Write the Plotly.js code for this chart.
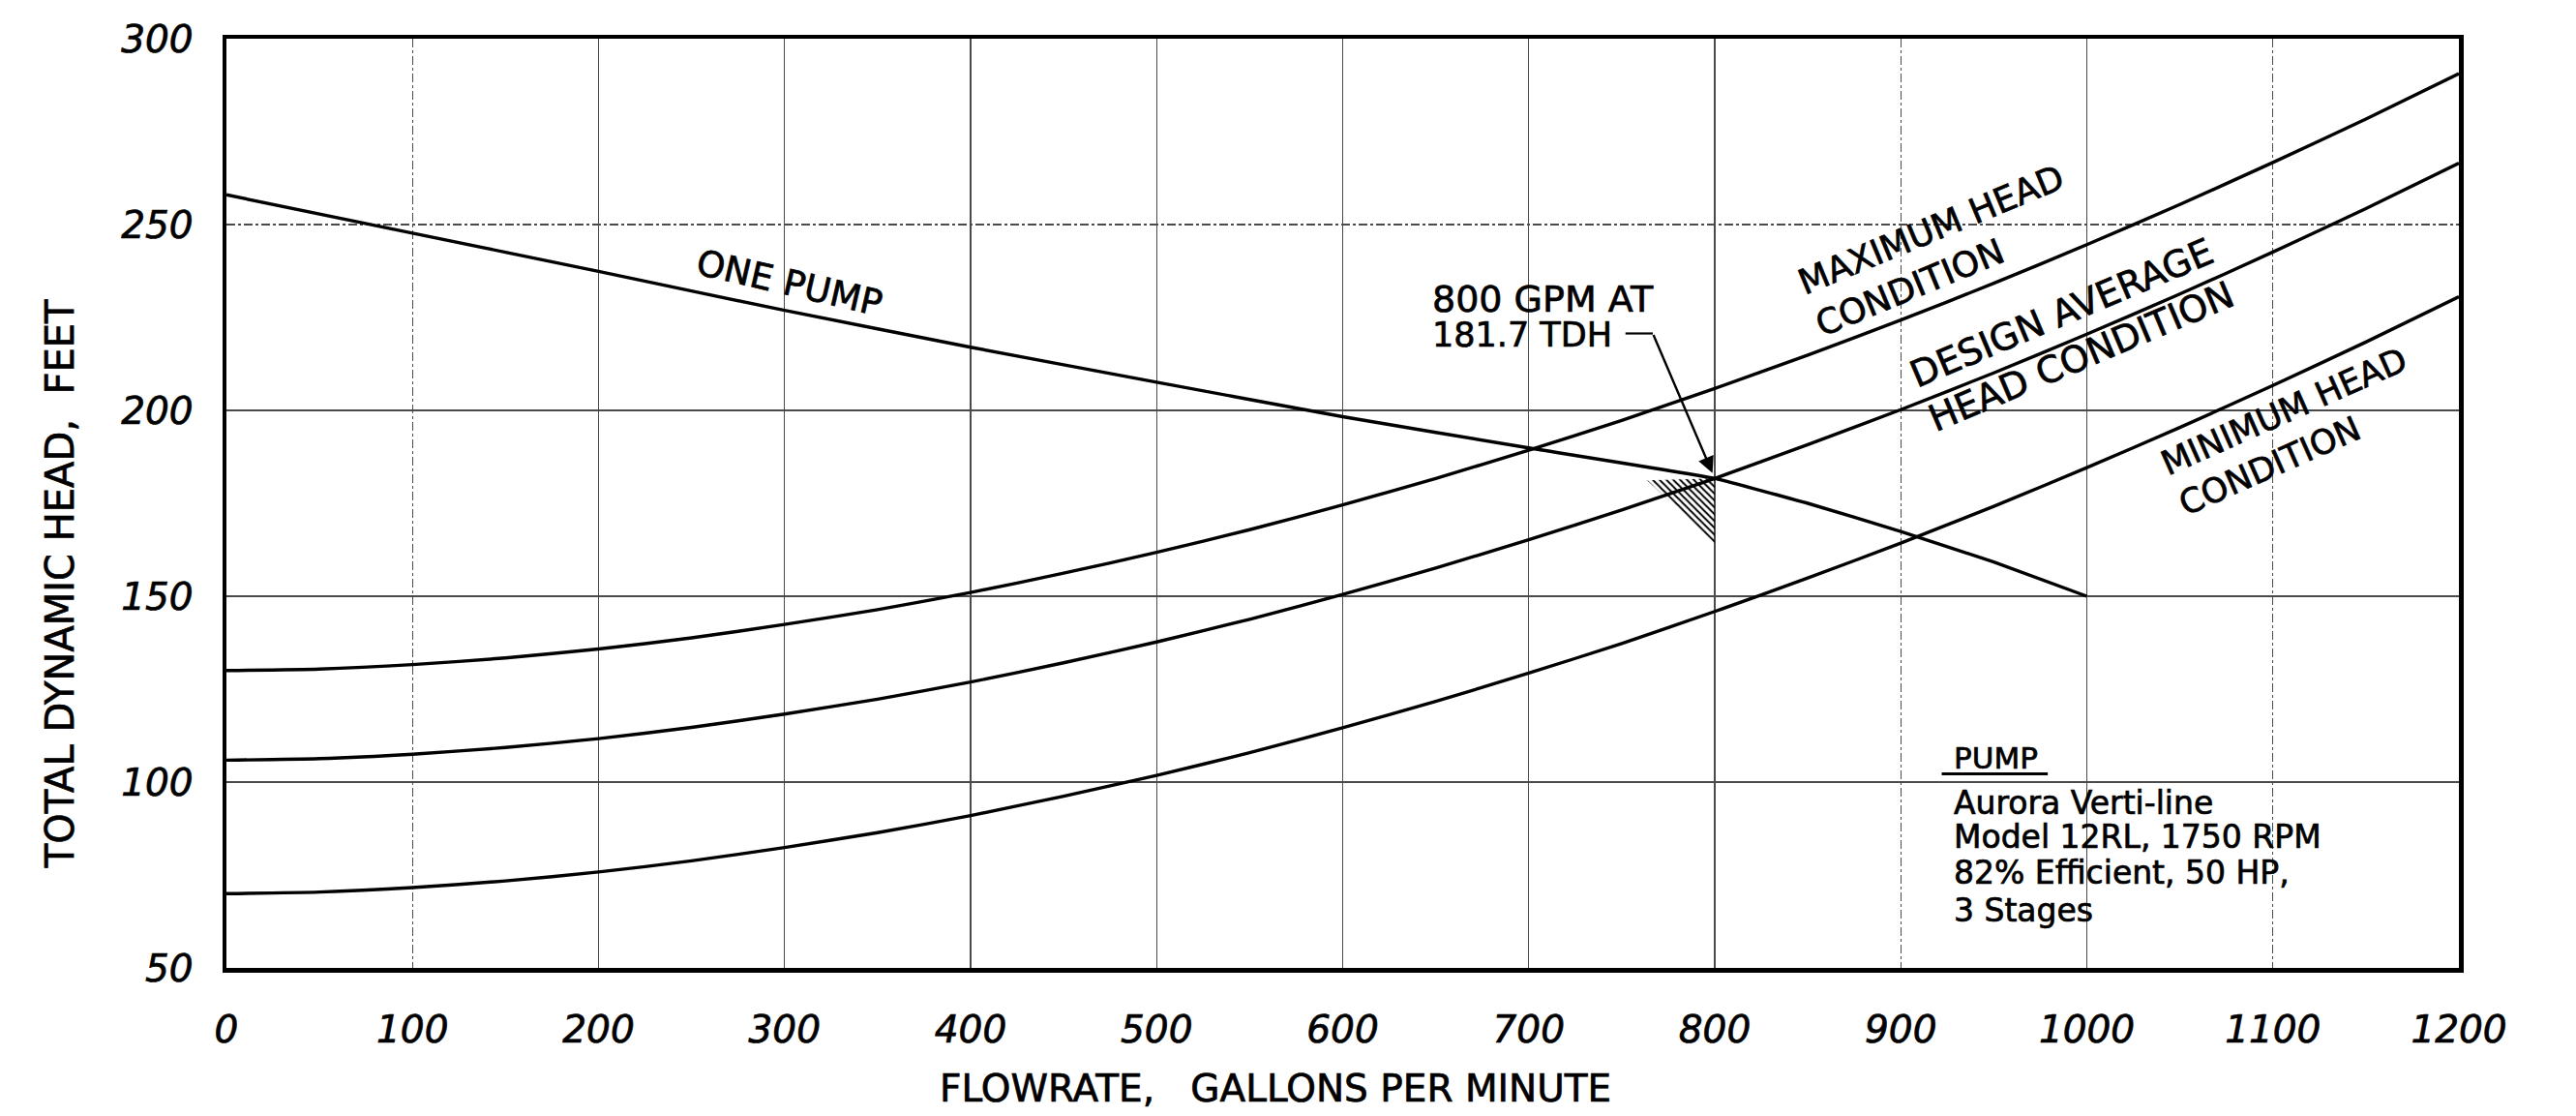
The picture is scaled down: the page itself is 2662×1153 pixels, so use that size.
<!DOCTYPE html>
<html>
<head>
<meta charset="utf-8">
<script src="https://cdn.plot.ly/plotly-3.0.1.min.js"></script>
<style>
  html, body { margin: 0; padding: 0; background: #ffffff; }
  #chart { width: 2662px; height: 1153px; }
  #chart svg text { stroke: #000000; stroke-width: 0.7px; }
</style>
</head>
<body>
<div id="chart"></div>
<script>
// ---- Data ----
const flow = [0, 50, 100, 150, 200, 250, 300, 350, 400, 450, 500, 550, 600,
              650, 700, 750, 800, 850, 900, 950, 1000, 1050, 1100, 1150, 1200];
const maxHead = [130, 130.4, 131.6, 133.4, 135.8, 138.8, 142.4, 146.4, 151.0, 156.2, 161.8, 167.9, 174.6,
                 181.7, 189.3, 197.3, 205.9, 214.9, 224.3, 234.2, 244.6, 255.4, 266.7, 278.4, 290.6];
const designHead = [105.9, 106.3, 107.5, 109.3, 111.7, 114.7, 118.3, 122.3, 126.9, 132.1, 137.7, 143.8, 150.5,
                    157.6, 165.2, 173.2, 181.7, 190.8, 200.2, 210.1, 220.5, 231.3, 242.6, 254.3, 266.5];
const minHead = [70, 70.4, 71.6, 73.4, 75.8, 78.8, 82.4, 86.4, 91.0, 96.2, 101.8, 107.9, 114.6,
                 121.7, 129.3, 137.3, 145.9, 154.9, 164.3, 174.2, 184.6, 195.4, 206.7, 218.4, 230.6];
const pumpFlow = [0, 100, 200, 300, 400, 500, 600, 700, 800, 850, 900, 950, 1000];
const pumpHead = [258, 247.7, 237.4, 226.9, 217.0, 207.6, 198.3, 189.9, 181.7, 175.0, 167.4, 159.2, 150.0];
const operatingPoint = [800, 181.7];           // 800 GPM at 181.7 TDH
const hatchFlow = [763.6, 800, 800, 763.6];
const hatchHead = [181.2, 181.7, 164.2, 181.2];
const xTicks = [0, 100, 200, 300, 400, 500, 600, 700, 800, 900, 1000, 1100, 1200];
const yTicks = [50, 100, 150, 200, 250, 300];
const xSolidGrid = [200, 300, 400, 500, 600, 700, 800, 1000];
const ySolidGrid = [100, 150, 200];
const pumpInfo = ['Aurora Verti-line', 'Model 12RL, 1750 RPM', '82% Efficient, 50 HP,', '3 Stages'];

const FONT = 'DejaVu Sans, Verdana, sans-serif';
const INK = '#000000';

const curveLine = {color: INK, width: 3.4, shape: 'spline', smoothing: 0.6};

const traces = [
  {x: flow, y: maxHead, mode: 'lines', line: curveLine, name: 'Maximum head condition'},
  {x: flow, y: designHead, mode: 'lines', line: curveLine, name: 'Design average head condition'},
  {x: flow, y: minHead, mode: 'lines', line: curveLine, name: 'Minimum head condition'},
  {x: pumpFlow, y: pumpHead, mode: 'lines', line: {color: INK, width: 3.4, shape: 'spline', smoothing: 0.3}, name: 'One pump'},
  {x: hatchFlow, y: hatchHead, mode: 'none', fill: 'toself', fillcolor: 'rgba(0,0,0,0)',
   fillpattern: {shape: '\\', fgcolor: INK, bgcolor: 'rgba(255,255,255,0)', size: 5, solidity: 0.4},
   name: 'Operating point', hoverinfo: 'skip'},
  // carrier trace for the overlay axes that draw the solid grid lines
  {x: [], y: [], xaxis: 'x2', yaxis: 'y2', mode: 'lines', showlegend: false, hoverinfo: 'skip'}
];

const annotations = [
  {x: 302.7, y: 234.2, text: 'ONE PUMP', textangle: 13, showarrow: false,
   font: {family: FONT, size: 37, color: INK}},
  {x: 921, y: 243, text: 'MAXIMUM HEAD<br>CONDITION', textangle: -22.5, align: 'left', showarrow: false,
   font: {family: FONT, size: 36, color: INK}},
  {x: 992, y: 220.5, text: 'DESIGN AVERAGE<br>HEAD CONDITION', textangle: -23, align: 'left', showarrow: false,
   font: {family: FONT, size: 38, color: INK}},
  {x: 1111, y: 194.2, text: 'MINIMUM HEAD<br>CONDITION', textangle: -24, align: 'left', showarrow: false,
   font: {family: FONT, size: 35, color: INK}},
  {x: 647.1, y: 230.0, xanchor: 'left', text: '800 GPM AT', showarrow: false,
   font: {family: FONT, size: 38, color: INK}},
  {x: 647.3, y: 220.2, xanchor: 'left', text: '181.7 TDH', showarrow: false,
   font: {family: FONT, size: 35, color: INK}},
  // arrow to the operating point
  {x: operatingPoint[0], y: operatingPoint[1], ax: 766.7, ay: 220.7, axref: 'x', ayref: 'y',
   text: '', showarrow: true, arrowhead: 2, arrowsize: 1.4, arrowwidth: 2.4, arrowcolor: INK, standoff: 6},
  // pump information
  {x: 927.3, y: 106.6, xanchor: 'left', text: 'PUMP', showarrow: false,
   font: {family: FONT, size: 31, color: INK}},
  // axis titles
  {xref: 'paper', yref: 'paper', x: 0.47, y: -0.13, xanchor: 'center', yanchor: 'middle',
   text: 'FLOWRATE,\u00a0\u00a0\u00a0GALLONS PER MINUTE', showarrow: false,
   font: {family: FONT, size: 39, color: INK}},
  {xref: 'paper', yref: 'paper', x: -0.0745, y: 0.4135, xanchor: 'center', yanchor: 'middle',
   text: 'TOTAL DYNAMIC HEAD,\u00a0\u00a0FEET', textangle: -90, showarrow: false,
   font: {family: FONT, size: 40, color: INK}}
];
const infoY = [94.5, 85.2, 75.6, 65.4];
pumpInfo.forEach((t, i) => annotations.push({
  x: 927.3, y: infoY[i], xanchor: 'left', text: t, showarrow: false,
  font: {family: FONT, size: 33, color: INK}
}));

const shapes = [
  // leader from "TDH" to the arrow bend
  {type: 'line', xref: 'x', yref: 'y', x0: 752, y0: 220.7, x1: 766.7, y1: 220.7,
   line: {color: INK, width: 2.2}},
  // underline of PUMP
  {type: 'line', xref: 'x', yref: 'y', x0: 922, y0: 102.2, x1: 979, y1: 102.2,
   line: {color: INK, width: 3}}
];

const gridColor = '#4a4a4a';
const layout = {
  width: 2662, height: 1153,
  margin: {l: 234, r: 121, t: 40, b: 153},
  paper_bgcolor: '#ffffff', plot_bgcolor: '#ffffff',
  showlegend: false,
  font: {family: FONT, color: INK},
  xaxis: {
    range: [0, 1200], tickvals: xTicks, ticktext: xTicks.map(String),
    showgrid: true, gridcolor: gridColor, gridwidth: 1.3, griddash: 'dashdot',
    zeroline: false, showline: true, mirror: true, linecolor: INK, linewidth: 4.5,
    ticks: '', ticklabelstandoff: 26,
    tickfont: {family: FONT, size: 39, color: INK, style: 'italic'}
  },
  yaxis: {
    range: [50, 300], tickvals: yTicks, ticktext: yTicks.map(String),
    showgrid: true, gridcolor: gridColor, gridwidth: 1.3, griddash: 'dashdot',
    zeroline: false, showline: true, mirror: true, linecolor: INK, linewidth: 4.5,
    ticks: '', ticklabelstandoff: 22,
    tickfont: {family: FONT, size: 39, color: INK, style: 'italic'}
  },
  xaxis2: {
    overlaying: 'x', anchor: 'y2', range: [0, 1200], tickvals: xSolidGrid,
    showticklabels: false, showgrid: true, gridcolor: gridColor, gridwidth: 1.3,
    zeroline: false, showline: false, ticks: ''
  },
  yaxis2: {
    overlaying: 'y', anchor: 'x2', range: [50, 300], tickvals: ySolidGrid,
    showticklabels: false, showgrid: true, gridcolor: gridColor, gridwidth: 1.3,
    zeroline: false, showline: false, ticks: ''
  },
  annotations: annotations,
  shapes: shapes
};

Plotly.newPlot('chart', traces, layout, {staticPlot: true, displayModeBar: false});
</script>
</body>
</html>
